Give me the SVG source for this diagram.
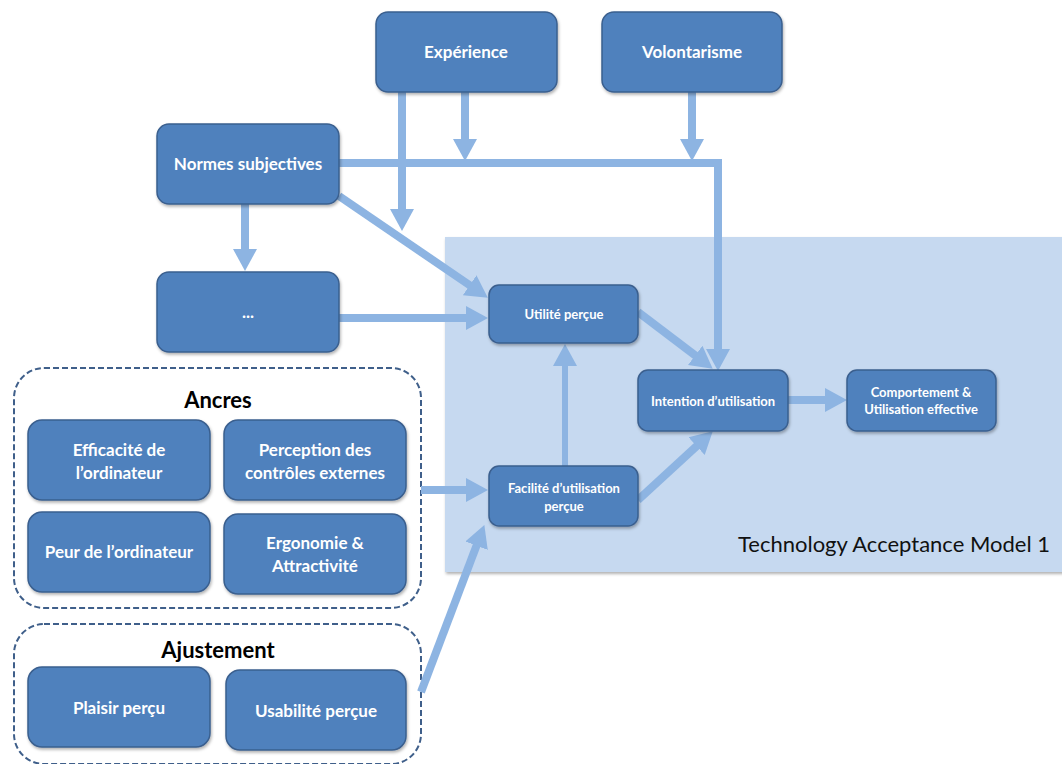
<svg xmlns="http://www.w3.org/2000/svg" width="1062" height="764" viewBox="0 0 1062 764">
<defs>
<marker id="ah" markerUnits="userSpaceOnUse" markerWidth="24" markerHeight="26" refX="1" refY="13" orient="auto">
<path d="M0,1 L22,13 L0,25 z" fill="#8DB4E2"/>
</marker>
<filter id="sh" x="-5%" y="-5%" width="115%" height="120%">
<feDropShadow dx="1" dy="2" stdDeviation="1.5" flood-color="#000" flood-opacity="0.3"/>
</filter>
</defs>
<style>
.node{fill:#4F81BD;stroke:#3A5F8E;stroke-width:1.5;filter:url(#sh)}
.t{font-family:Lato,"Open Sans","Liberation Sans",sans-serif;font-weight:bold;fill:#fff;text-anchor:middle}
.big{font-size:17px}
.small{font-size:13px}
.hdr{font-family:Lato,"Open Sans","Liberation Sans",sans-serif;font-weight:bold;fill:#000;font-size:22px;text-anchor:middle}
.dash{fill:#fff;stroke:#3F5F8A;stroke-width:2;stroke-dasharray:6,3}
.arr{fill:none;stroke:#8DB4E2;stroke-width:8;marker-end:url(#ah)}
</style>
<rect width="1062" height="764" fill="#fff"/>
<g id="tam">
<rect x="445" y="237" width="620" height="335" fill="#C6D9F0" filter="url(#sh)"/>
<text x="1050" y="552" font-family="Lato,'Open Sans','Liberation Sans',sans-serif" font-size="22" text-anchor="end" fill="#111" textLength="312">Technology Acceptance Model 1</text>
</g>
<g id="ancres-group">
<rect class="dash" x="14" y="368" width="407" height="240" rx="30"/>
<text class="hdr" x="218" y="408">Ancres</text>
</g>
<g id="ajustement-group">
<rect class="dash" x="14" y="624" width="407" height="140" rx="30"/>
<text class="hdr" x="218" y="658">Ajustement</text>
</g>
<g id="connectors">
<line class="arr" x1="402" y1="92" x2="402" y2="210"/>
<line class="arr" x1="465" y1="92" x2="465" y2="140"/>
<line class="arr" x1="692" y1="92" x2="692" y2="140"/>
<polyline class="arr" points="339,163 718,163 718,350"/>
<line class="arr" x1="245" y1="204" x2="245" y2="250"/>
<line class="arr" x1="339" y1="196" x2="470.5" y2="285.8"/>
<line class="arr" x1="339" y1="318" x2="467" y2="318"/>
<line class="arr" x1="565" y1="466" x2="565" y2="365" style="stroke-width:6"/>
<line class="arr" x1="638" y1="312" x2="696" y2="356"/>
<line class="arr" x1="638" y1="500" x2="697.3" y2="445.5"/>
<line class="arr" x1="788" y1="400" x2="826" y2="400"/>
<line class="arr" x1="421" y1="490" x2="467" y2="490"/>
<line class="arr" x1="421" y1="692" x2="476.9" y2="544.7"/>
</g>
<g id="experience"><rect class="node" x="376" y="12" width="181" height="80" rx="12"/><text class="t big" x="466" y="58">Expérience</text></g>
<g id="volontarisme"><rect class="node" x="602" y="12" width="180" height="80" rx="12"/><text class="t big" x="692" y="58">Volontarisme</text></g>
<g id="normes"><rect class="node" x="157" y="124" width="182" height="80" rx="12"/><text class="t big" x="248" y="170">Normes subjectives</text></g>
<g id="etc"><rect class="node" x="157" y="272" width="182" height="80" rx="12"/><text class="t big" x="248" y="318">...</text></g>
<g id="utilite"><rect class="node" x="489" y="285" width="149" height="58" rx="10"/><text class="t small" x="564" y="319">Utilité perçue</text></g>
<g id="intention"><rect class="node" x="638" y="370" width="150" height="61" rx="10"/><text class="t small" x="713" y="406">Intention d’utilisation</text></g>
<g id="comportement"><rect class="node" x="847" y="370" width="149" height="61" rx="10"/><text class="t small" x="921" y="397">Comportement &amp;</text><text class="t small" x="921" y="414">Utilisation effective</text></g>
<g id="facilite"><rect class="node" x="489" y="466" width="149" height="60" rx="10"/><text class="t small" x="564" y="493">Facilité d’utilisation</text><text class="t small" x="564" y="511">perçue</text></g>
<g id="efficacite"><rect class="node" x="28" y="420" width="182" height="80" rx="14"/><text class="t big" x="119" y="456">Efficacité de</text><text class="t big" x="119" y="479">l’ordinateur</text></g>
<g id="perception"><rect class="node" x="224" y="420" width="182" height="80" rx="14"/><text class="t big" x="315" y="456">Perception des</text><text class="t big" x="315" y="479">contrôles externes</text></g>
<g id="peur"><rect class="node" x="28" y="512" width="182" height="80" rx="14"/><text class="t big" x="119" y="558">Peur de l’ordinateur</text></g>
<g id="ergonomie"><rect class="node" x="224" y="514" width="182" height="80" rx="14"/><text class="t big" x="315" y="549">Ergonomie &amp;</text><text class="t big" x="315" y="572">Attractivité</text></g>
<g id="plaisir"><rect class="node" x="28" y="667" width="182" height="80" rx="14"/><text class="t big" x="119" y="714">Plaisir perçu</text></g>
<g id="usabilite"><rect class="node" x="226" y="670" width="180" height="80" rx="14"/><text class="t big" x="316" y="717">Usabilité perçue</text></g>
</svg>
